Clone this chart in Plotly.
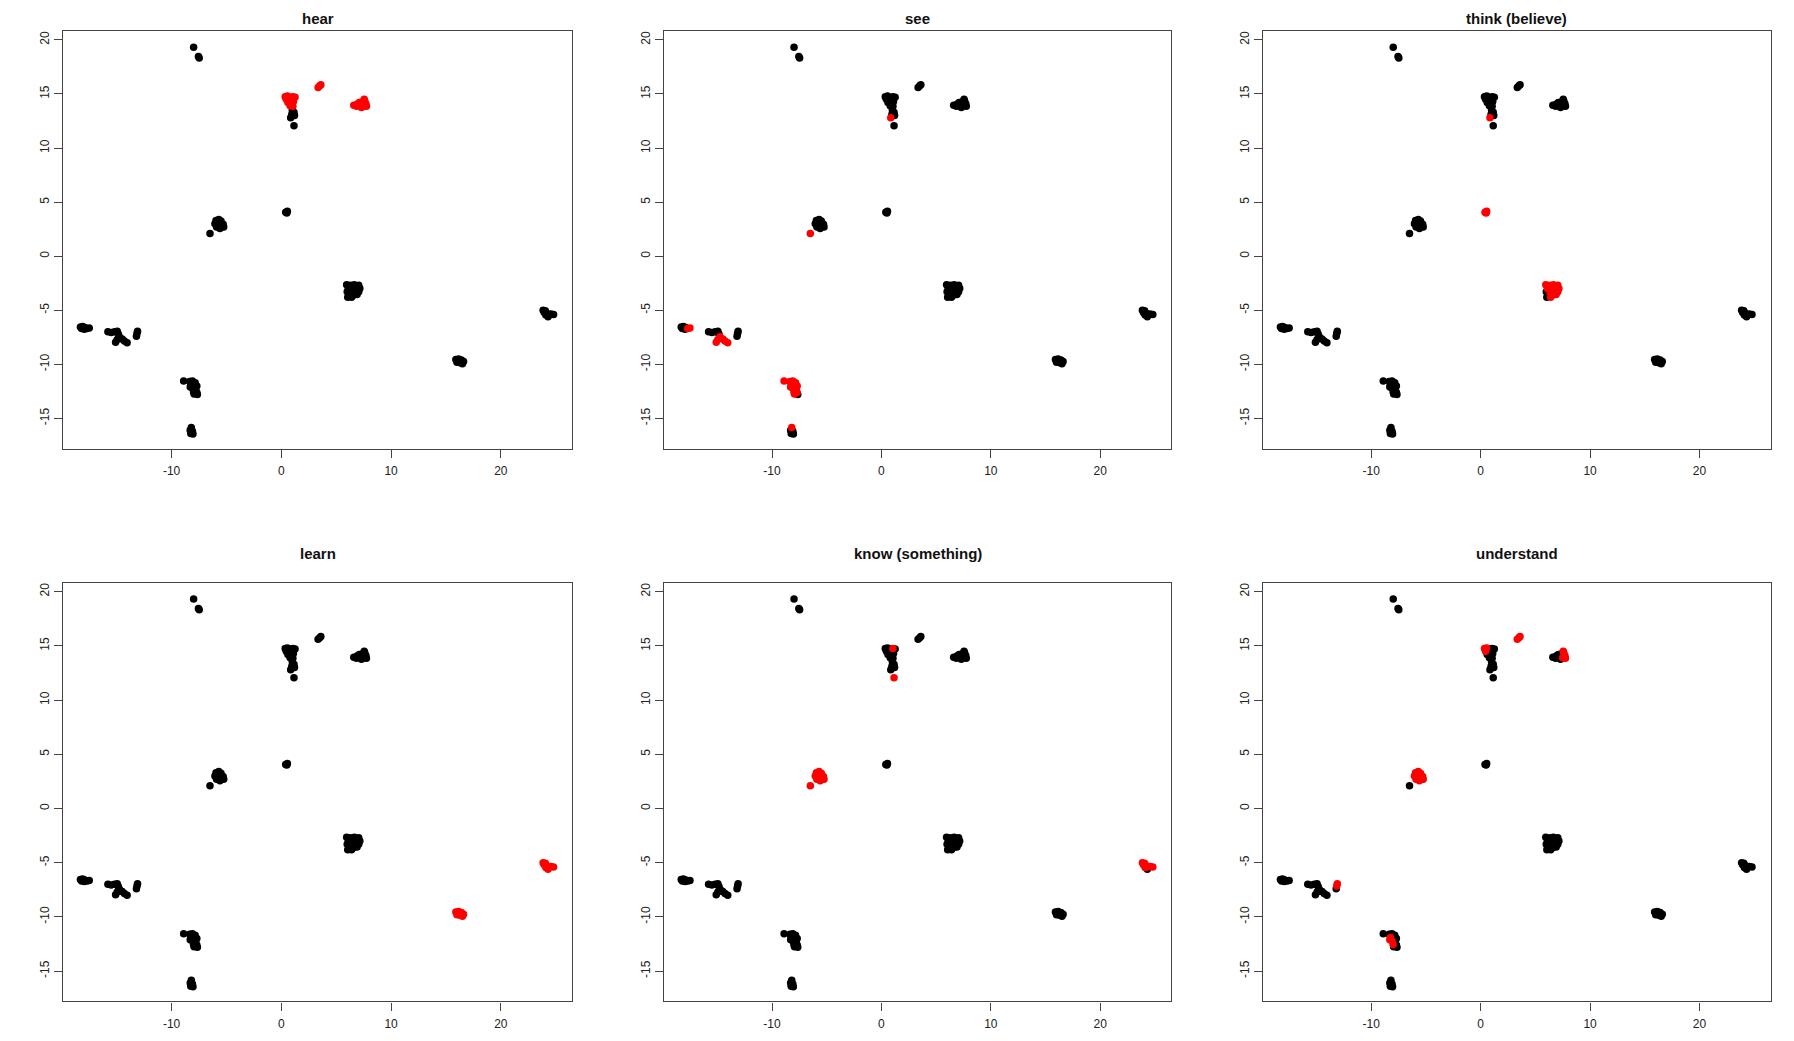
import plotly.graph_objects as go
from plotly.subplots import make_subplots

# Panel titles (verbs)
panel_titles = ['hear', 'see', 'think (believe)', 'learn', 'know (something)', 'understand']

# Point clusters (x, y)
cl_A = [(-7.99, 19.32), (-7.55, 18.45), (-7.48, 18.33)]
cl_B = [(0.35, 14.75), (0.55, 14.8), (0.75, 14.7), (1.05, 14.75), (1.25, 14.7),
        (0.45, 14.5), (0.7, 14.4), (1.0, 14.5), (0.6, 14.2), (0.9, 14.15),
        (1.1, 14.3), (0.8, 13.9), (1.05, 13.85), (1.0, 13.5), (1.15, 13.3),
        (0.95, 13.1), (1.2, 13.0), (0.85, 12.8), (1.15, 12.05)]
cl_C = [(3.35, 15.6), (3.5, 15.75), (3.6, 15.85)]
cl_D = [(6.6, 13.95), (6.85, 13.85), (7.05, 14.0), (7.3, 13.75), (7.5, 13.9),
        (7.7, 14.1), (7.6, 14.35), (7.35, 14.25), (7.1, 14.2), (7.55, 14.5),
        (6.9, 14.05), (7.75, 13.85)]
cl_E = [(0.4, 4.05), (0.55, 4.15), (0.5, 4.0)]
cl_F = [(-5.95, 3.3), (-5.7, 3.4), (-5.5, 3.25), (-6.05, 3.0), (-5.8, 2.95),
        (-5.45, 2.85), (-5.25, 2.7), (-5.9, 2.7), (-5.6, 2.55), (-5.3, 2.95),
        (-5.75, 3.15)]
cl_F2 = [(-6.5, 2.1)]
cl_G = [(5.95, -2.65), (6.3, -2.7), (6.65, -2.65), (7.05, -2.7), (6.1, -3.0),
        (6.5, -3.0), (6.85, -3.05), (7.15, -3.0), (6.0, -3.3), (6.35, -3.35),
        (6.75, -3.35), (7.05, -3.3), (6.2, -3.6), (6.6, -3.6), (6.05, -3.8),
        (6.4, -3.8), (6.9, -3.55)]
cl_H = [(23.85, -5.0), (24.05, -5.05), (23.95, -5.2), (24.15, -5.25), (24.25, -5.4),
        (24.3, -5.6), (24.55, -5.35), (24.8, -5.4), (24.1, -5.45)]
cl_I = [(-18.3, -6.55), (-18.1, -6.5), (-17.9, -6.6), (-17.7, -6.7), (-17.5, -6.65),
        (-18.2, -6.7), (-17.95, -6.75)]
cl_J = [(-15.8, -7.0), (-15.5, -7.05), (-15.2, -7.0), (-14.95, -6.95), (-14.85, -7.2),
        (-14.75, -7.45), (-14.95, -7.7), (-15.1, -7.95), (-14.5, -7.65), (-14.3, -7.85),
        (-14.05, -8.0)]
cl_J2 = [(-13.1, -6.95), (-13.15, -7.15), (-13.2, -7.4)]
cl_K = [(15.9, -9.55), (16.15, -9.5), (16.4, -9.6), (16.6, -9.75), (16.0, -9.8),
        (16.3, -9.85), (16.5, -9.95), (16.1, -9.65)]
cl_L = [(-8.9, -11.55), (-8.35, -11.6), (-8.1, -11.55), (-7.85, -11.7), (-8.25, -11.9),
        (-7.95, -11.95), (-7.7, -12.0), (-8.1, -12.2), (-7.8, -12.3), (-8.0, -12.55),
        (-7.7, -12.6), (-7.65, -12.8), (-7.95, -12.75), (-8.3, -12.1)]
cl_M = [(-8.2, -15.85), (-8.3, -16.1), (-8.1, -16.2), (-8.25, -16.4), (-8.05, -16.45)]

clusters = {'A': cl_A, 'B': cl_B, 'C': cl_C, 'D': cl_D, 'E': cl_E, 'F': cl_F,
            'F2': cl_F2, 'G': cl_G, 'H': cl_H, 'I': cl_I, 'J': cl_J, 'J2': cl_J2,
            'K': cl_K, 'L': cl_L, 'M': cl_M}

# Which points are highlighted (red) in each panel: cluster -> point indices
red_hear = {'B': list(range(13)), 'C': [0, 1, 2], 'D': list(range(12))}
red_see = {'B': [17], 'F2': [0], 'I': [3, 4], 'J': [5, 6, 7, 8, 9, 10],
           'L': [0, 1, 2, 3, 4, 5, 6, 7, 8, 9, 10, 12, 13], 'M': [0]}
red_think = {'B': [17], 'E': [0, 1, 2],
             'G': [0, 1, 2, 3, 4, 5, 6, 7, 9, 10, 11, 13, 15, 16]}
red_learn = {'H': list(range(9)), 'K': list(range(8))}
red_know = {'B': [3, 18], 'F': list(range(11)), 'F2': [0], 'H': [0, 1, 2, 3, 4, 6, 7, 8]}
red_understand = {'B': [0, 1, 5], 'C': [0, 1, 2], 'D': [4, 5, 6, 9, 11],
                  'F': list(range(11)), 'J2': [0, 1], 'L': [4, 7, 9, 13]}
red_sets = [red_hear, red_see, red_think, red_learn, red_know, red_understand]

# Axis ticks
x_ticks = [-10, 0, 10, 20]
x_labels = ['-10', '0', '10', '20']
y_ticks = [-15, -10, -5, 0, 5, 10, 15, 20]
y_labels = ['-15', '-10', '-5', '0', '5', '10', '15', '20']

fig = make_subplots(rows=2, cols=3)

col_domains = [[0.0306, 0.3145], [0.3655, 0.6485], [0.6995, 0.9825]]
row_domains = [[0.5767, 0.9777], [0.0457, 0.4477]]

for i, reds in enumerate(red_sets):
    r, c = i // 3 + 1, i % 3 + 1
    bx, by, rx, ry = [], [], [], []
    for name, pts in clusters.items():
        idx = reds.get(name, [])
        for j, (x, y) in enumerate(pts):
            if j in idx:
                rx.append(x)
                ry.append(y)
            else:
                bx.append(x)
                by.append(y)
    fig.add_trace(go.Scatter(x=bx, y=by, mode='markers',
                             marker=dict(color='black', size=7.5)), row=r, col=c)
    fig.add_trace(go.Scatter(x=rx, y=ry, mode='markers',
                             marker=dict(color='#ff0000', size=7.5)), row=r, col=c)
    fig.update_xaxes(domain=col_domains[c - 1], row=r, col=c)
    fig.update_yaxes(domain=row_domains[r - 1], row=r, col=c)
    # top-row titles sit right at the page edge, kept fully visible
    if r == 1:
        ty, ya = 1.0, 'top'
    else:
        ty, ya = row_domains[r - 1][1] + 0.028, 'middle'
    fig.add_annotation(text='<b>' + panel_titles[i] + '</b>', showarrow=False,
                       xref='paper', yref='paper',
                       x=sum(col_domains[c - 1]) / 2, y=ty,
                       xanchor='center', yanchor=ya,
                       font=dict(size=15, color='#111'))

fig.update_xaxes(range=[-19.9, 26.5], tickvals=x_ticks, ticktext=x_labels,
                 showgrid=False, zeroline=False, showline=True, mirror=True,
                 linecolor='#444', linewidth=1.2, ticks='outside', ticklen=8,
                 ticklabelstandoff=3,
                 tickcolor='#444', tickfont=dict(size=12, color='#222'))
fig.update_yaxes(range=[-17.8, 20.8], tickvals=y_ticks, ticktext=y_labels,
                 tickangle=-90, showgrid=False, zeroline=False, showline=True,
                 mirror=True, linecolor='#444', linewidth=1.2, ticks='outside',
                 ticklen=8, tickcolor='#444', tickfont=dict(size=12, color='#222'))

fig.update_layout(
    width=1794, height=1041,
    margin=dict(l=0, r=0, t=0, b=0),
    plot_bgcolor='white', paper_bgcolor='white',
    font=dict(family='Liberation Sans, Arial, sans-serif'),
    showlegend=False
)

fig.write_html('out.html')
